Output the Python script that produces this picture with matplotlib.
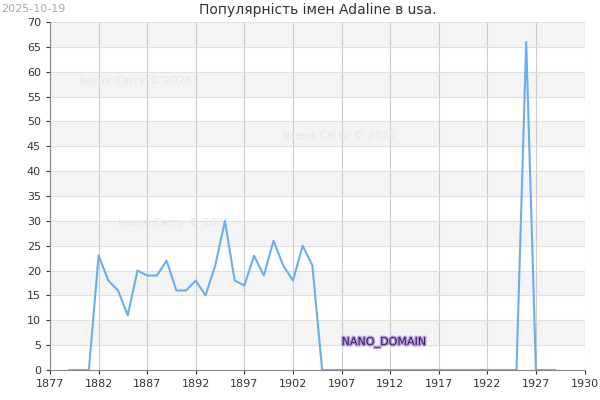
import matplotlib.pyplot as plt
import matplotlib.patheffects as pe

years = list(range(1879, 1930))
values = [0, 0, 0, 23, 18, 16, 11, 20, 19, 19, 22, 16, 16, 18, 15, 21, 30, 18, 17, 23,
          19, 26, 21, 18, 25, 21] + [0] * 21 + [66, 0, 0, 0]
values = values[:len(years)]
tick_years = [1877, 1882, 1887, 1892, 1897, 1902, 1907, 1912, 1917, 1922, 1927]

fig = plt.figure(figsize=(6, 4), dpi=100)
ax = fig.add_axes([50 / 600, 30 / 400, 535 / 600, 348 / 400])
for y0 in range(5, 70, 10):
    ax.axhspan(y0, y0 + 5, color='#f4f4f4', zorder=0)
ax.plot(years, values, color='#6aaef0', lw=1.5, zorder=3)
ax.set_xlim(1877, 1932.05)
ax.set_ylim(0, 70)
ax.set_xticks(tick_years + [1932.05])
ax.set_xticklabels([str(t) for t in tick_years] + ['1930'])
ax.set_yticks(range(0, 71, 5))
ax.grid(axis='x', color='#cccccc', lw=0.8)
ax.grid(axis='y', color='#dddddd', lw=0.6)
ax.set_axisbelow(True)
for s in ['top', 'right']:
    ax.spines[s].set_visible(False)
ax.spines['left'].set_color('#888888')
ax.spines['bottom'].set_color('#888888')
ax.tick_params(labelsize=8, colors='#333333', length=3)
ax.set_title('Популярність імен Adaline в usa.', fontsize=10, color='#333333')
fig.text(0.002, 0.99, '2025-10-19', fontsize=8, color='#aaaaaa', va='top')
for x, y in [(1880, 57.5), (1901, 46.5), (1884, 29)]:
    ax.text(x, y, 'Імена Світу © 2025', fontsize=8, color='#e6e6f2', zorder=2)
ax.text(1907, 5, 'NANO_DOMAIN', fontsize=8, color='#3a1f5c', zorder=4,
        path_effects=[pe.withStroke(linewidth=2, foreground='#b89ae0')])
fig.savefig('out.png')
